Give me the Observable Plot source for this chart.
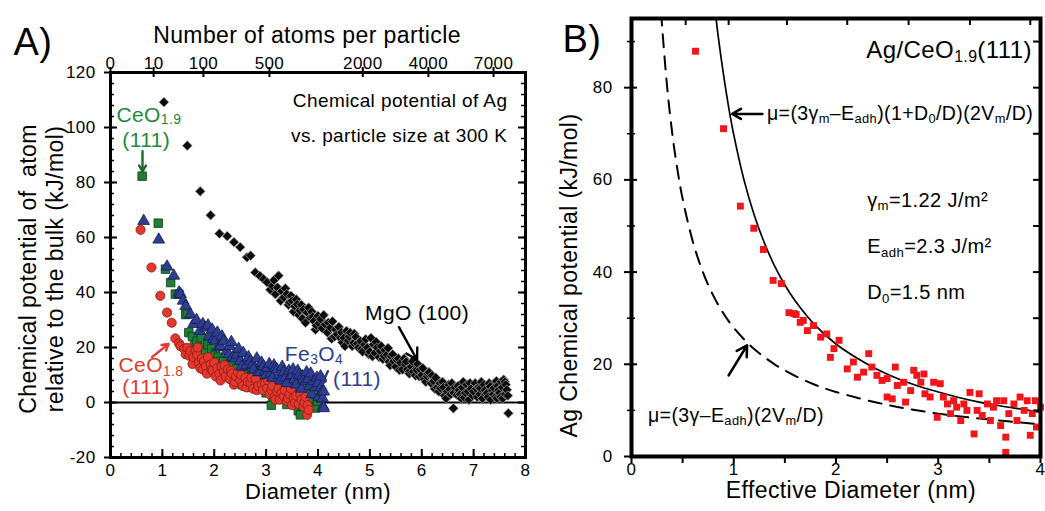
<!DOCTYPE html>
<html><head><meta charset="utf-8">
<script src="https://cdn.jsdelivr.net/npm/d3@7"></script>
<script src="https://cdn.jsdelivr.net/npm/@observablehq/plot@0.6"></script>
<style>
html,body{margin:0;padding:0;background:#fff;}
#wrap{position:relative;width:1045px;height:511px;overflow:hidden;}
#wrap svg{position:absolute;top:0;}
</style></head>
<body><div id="wrap"></div>
<script>
// ---------- Panel A data: [diameter (nm), chemical potential (kJ/mol)] ----------
const mgoPts = [[1.03,109.2],[1.48,93.4],[1.73,76.8],[1.93,68.1],[2.10,61.4],[2.25,60.5],[2.38,58.3],[2.50,56.5],[2.63,52.8],[2.70,53.4],[2.79,47.3],[2.88,46.0],[2.95,44.9],[3.02,43.7],[3.08,41.0],[3.12,42.4],[3.15,44.5],[3.18,39.4],[3.22,41.8],[3.24,46.1],[3.28,37.0],[3.30,40.5],[3.34,38.2],[3.37,41.5],[3.40,39.4],[3.43,35.5],[3.45,36.5],[3.48,38.8],[3.50,37.0],[3.53,33.0],[3.55,35.0],[3.58,37.5],[3.60,35.7],[3.63,31.8],[3.65,33.5],[3.68,35.5],[3.70,30.5],[3.72,33.9],[3.76,29.0],[3.79,32.7],[3.82,34.5],[3.85,30.8],[3.88,33.0],[3.90,31.2],[3.92,29.6],[3.95,26.5],[3.97,28.0],[4.00,31.5],[4.02,28.8],[4.05,30.3],[4.08,27.0],[4.11,31.8],[4.14,28.4],[4.18,25.5],[4.20,29.0],[4.24,27.2],[4.26,23.2],[4.28,29.5],[4.32,24.0],[4.34,26.5],[4.37,24.8],[4.40,27.5],[4.43,23.5],[4.45,25.5],[4.47,21.8],[4.50,23.5],[4.52,20.5],[4.55,26.0],[4.58,22.5],[4.60,24.0],[4.62,25.4],[4.66,20.5],[4.69,21.7],[4.70,25.0],[4.73,23.8],[4.76,21.5],[4.78,19.9],[4.82,22.3],[4.84,19.5],[4.86,18.5],[4.90,21.0],[4.92,23.0],[4.95,19.9],[4.98,17.5],[5.00,18.5],[5.02,23.5],[5.05,16.8],[5.07,21.1],[5.10,18.0],[5.12,22.0],[5.14,20.0],[5.18,16.5],[5.20,18.7],[5.22,20.5],[5.25,15.8],[5.27,17.0],[5.29,19.0],[5.33,17.4],[5.35,19.8],[5.37,14.8],[5.39,13.5],[5.41,16.8],[5.44,17.5],[5.46,15.0],[5.50,13.0],[5.52,15.5],[5.55,16.0],[5.57,11.8],[5.59,14.4],[5.63,12.0],[5.66,16.0],[5.68,13.8],[5.70,14.8],[5.72,12.0],[5.76,10.5],[5.78,11.5],[5.80,13.0],[5.82,15.0],[5.84,11.3],[5.88,9.8],[5.90,11.8],[5.92,14.0],[5.95,9.5],[5.97,12.0],[6.00,10.0],[6.02,12.5],[6.05,8.5],[6.08,7.5],[6.10,9.5],[6.12,10.5],[6.14,11.0],[6.18,7.0],[6.20,9.8],[6.23,7.7],[6.25,5.0],[6.27,9.0],[6.30,5.5],[6.33,4.0],[6.35,7.0],[6.36,5.2],[6.40,7.5],[6.42,5.5],[6.44,2.5],[6.47,1.5],[6.49,4.0],[6.52,6.5],[6.54,4.8],[6.56,3.0],[6.58,7.0],[6.61,-2.1],[6.62,3.5],[6.64,5.5],[6.68,2.8],[6.70,6.0],[6.72,4.5],[6.74,3.0],[6.76,1.5],[6.78,5.5],[6.80,7.5],[6.82,1.8],[6.84,3.5],[6.87,6.5],[6.89,4.0],[6.91,1.0],[6.93,7.0],[6.95,5.0],[6.98,2.5],[7.00,4.0],[7.03,7.0],[7.05,5.0],[7.07,2.0],[7.10,5.5],[7.12,3.0],[7.13,5.2],[7.15,7.5],[7.17,1.5],[7.20,6.5],[7.22,4.5],[7.23,3.0],[7.26,3.4],[7.28,2.0],[7.30,7.0],[7.32,5.8],[7.33,1.0],[7.36,4.5],[7.38,3.0],[7.39,5.2],[7.42,2.0],[7.44,7.8],[7.45,1.5],[7.46,6.0],[7.48,4.5],[7.50,3.5],[7.52,2.0],[7.53,7.5],[7.55,5.5],[7.56,1.5],[7.58,8.3],[7.60,7.5],[7.61,3.0],[7.62,6.5],[7.64,4.6],[7.66,2.5],[7.67,-3.9]];

const ceo19Pts = [[0.61,82.3],[0.92,65.2],[1.06,48.5],[1.16,43.6],[1.25,39.4],[1.32,39.4],[1.45,32.0],[1.48,32.1],[1.51,25.4],[1.58,24.0],[1.62,21.0],[1.67,22.3],[1.72,20.0],[1.75,23.5],[1.78,17.5],[1.83,18.7],[1.88,21.0],[1.93,15.5],[1.95,19.5],[1.99,16.2],[2.02,18.0],[2.05,13.0],[2.08,16.5],[2.12,15.0],[2.15,12.0],[2.18,15.0],[2.24,12.0],[2.28,11.0],[2.30,14.0],[2.35,13.5],[2.38,10.1],[2.44,12.5],[2.48,10.5],[2.50,8.0],[2.54,6.5],[2.57,12.5],[2.60,11.0],[2.63,10.0],[2.66,7.6],[2.70,5.5],[2.72,9.5],[2.76,8.9],[2.80,6.0],[2.82,11.0],[2.88,7.5],[2.92,9.5],[2.95,6.5],[3.00,3.5],[3.03,6.0],[3.06,8.0],[3.10,-1.0],[3.13,2.0],[3.15,4.0],[3.19,5.5],[3.22,7.0],[3.23,1.5],[3.28,2.5],[3.30,4.5],[3.34,1.6],[3.37,3.0],[3.40,-0.7],[3.44,5.0],[3.47,6.5],[3.52,0.0],[3.55,4.5],[3.58,3.0],[3.62,-3.0],[3.66,-4.5],[3.70,-1.0],[3.72,2.0],[3.78,5.0],[3.82,3.0],[3.85,0.4],[3.90,-1.5],[3.95,-2.0],[3.96,3.0],[3.99,0.5],[4.05,1.6]];

const ceo18Pts = [[0.58,62.8],[0.79,49.1],[0.96,38.8],[1.09,32.7],[1.18,29.0],[1.25,23.3],[1.32,21.5],[1.35,20.5],[1.42,19.5],[1.45,17.5],[1.48,19.9],[1.52,17.0],[1.54,18.7],[1.58,14.0],[1.60,16.5],[1.64,19.0],[1.67,17.4],[1.68,20.0],[1.70,14.5],[1.73,12.5],[1.76,16.0],[1.78,12.0],[1.80,15.0],[1.84,13.0],[1.86,10.5],[1.88,16.5],[1.93,13.8],[1.95,12.0],[1.97,11.5],[2.00,14.5],[2.03,9.5],[2.06,12.5],[2.10,10.5],[2.12,8.0],[2.14,13.0],[2.18,11.3],[2.20,13.5],[2.22,9.5],[2.26,12.0],[2.30,8.5],[2.32,11.5],[2.34,10.5],[2.38,6.5],[2.40,7.5],[2.42,9.5],[2.46,11.0],[2.50,8.3],[2.52,10.0],[2.55,6.0],[2.60,9.0],[2.62,5.5],[2.65,7.5],[2.70,7.1],[2.72,9.0],[2.75,5.0],[2.80,8.5],[2.82,4.5],[2.85,6.0],[2.89,12.0],[2.92,6.5],[2.94,4.5],[2.98,7.0],[3.02,5.2],[3.04,8.0],[3.07,3.0],[3.10,4.5],[3.12,6.0],[3.16,2.0],[3.18,1.0],[3.21,4.0],[3.24,5.0],[3.26,1.0],[3.30,3.5],[3.34,2.2],[3.36,4.5],[3.40,0.5],[3.42,1.5],[3.45,3.0],[3.48,5.0],[3.50,-1.0],[3.53,1.6],[3.56,0.0],[3.58,2.5],[3.63,-0.5],[3.66,3.0],[3.68,1.0],[3.72,-1.5],[3.74,0.0],[3.76,2.0],[3.79,-4.5],[3.80,-1.0],[3.82,-2.7]];

const fe3o4Pts = [[0.64,66.0],[0.93,59.2],[1.09,49.4],[1.22,46.1],[1.32,40.0],[1.35,39.4],[1.40,37.0],[1.45,35.1],[1.54,32.1],[1.60,28.5],[1.66,30.0],[1.72,26.0],[1.78,28.5],[1.83,27.2],[1.88,28.0],[1.90,24.0],[1.96,26.5],[1.98,23.0],[2.02,22.5],[2.06,25.4],[2.08,20.0],[2.12,20.5],[2.15,24.0],[2.18,22.3],[2.24,18.5],[2.28,17.5],[2.30,20.5],[2.33,22.0],[2.36,16.5],[2.41,16.0],[2.44,17.4],[2.47,19.5],[2.50,15.0],[2.53,13.0],[2.56,18.0],[2.62,13.5],[2.66,16.5],[2.70,15.0],[2.74,14.0],[2.76,12.0],[2.82,16.0],[2.85,11.0],[2.88,11.0],[2.91,14.5],[2.95,13.2],[2.98,11.5],[3.00,10.0],[3.03,12.5],[3.06,14.0],[3.09,10.5],[3.12,9.0],[3.15,13.5],[3.18,12.5],[3.21,12.0],[3.25,10.0],[3.28,8.0],[3.31,13.0],[3.34,11.0],[3.37,9.0],[3.40,7.0],[3.44,11.5],[3.47,9.5],[3.50,10.0],[3.52,12.0],[3.55,8.5],[3.58,6.5],[3.61,11.5],[3.64,10.0],[3.68,5.0],[3.70,9.5],[3.72,8.3],[3.76,7.7],[3.78,11.0],[3.81,8.5],[3.84,6.0],[3.86,10.5],[3.88,3.0],[3.92,7.7],[3.95,5.5],[3.98,9.0],[4.00,7.0],[4.02,2.0],[4.05,9.5],[4.06,5.5],[4.08,4.0],[4.09,1.5],[4.11,4.0],[4.10,-1.5],[4.11,-2.1]];

const xTicksA = [0,1,2,3,4,5,6,7,8];
const yTicksA = [-20,0,20,40,60,80,100,120];
const atomTicks = [0,10,100,500,2000,4000,7000];
const nmPerCubeRootAtom = 0.386; // D = 0.386 * N^(1/3) for Ag

// ---------- Panel B data ----------
const agCeoPts = [[0.626,87.9],[0.90,71.1],[1.065,54.3],[1.196,49.5],[1.29,44.9],[1.385,38.2],[1.466,37.5],[1.54,31.2],[1.59,31.0],[1.61,30.8],[1.65,29.1],[1.68,29.5],[1.72,27.3],[1.78,28.4],[1.85,25.9],[1.91,26.6],[1.945,21.5],[1.98,23.4],[2.03,25.2],[2.11,19.0],[2.17,20.5],[2.21,17.2],[2.27,18.3],[2.32,22.3],[2.35,19.4],[2.40,17.6],[2.45,16.5],[2.50,16.9],[2.50,12.9],[2.55,12.5],[2.58,19.4],[2.60,15.4],[2.66,16.1],[2.68,11.8],[2.73,14.3],[2.76,18.7],[2.79,17.6],[2.83,16.1],[2.86,17.9],[2.87,13.6],[2.92,12.9],[2.955,16.1],[2.99,8.5],[3.02,15.8],[3.05,12.9],[3.09,11.4],[3.12,9.3],[3.15,12.1],[3.18,10.7],[3.22,7.8],[3.25,11.4],[3.28,10.0],[3.31,13.9],[3.35,4.9],[3.38,10.0],[3.40,13.6],[3.43,8.9],[3.48,11.4],[3.51,7.8],[3.54,10.7],[3.57,12.1],[3.61,6.7],[3.64,12.1],[3.66,4.2],[3.66,0.9],[3.69,9.3],[3.74,11.4],[3.77,7.8],[3.80,12.9],[3.84,10.0],[3.87,12.1],[3.90,4.6],[3.92,9.3],[3.95,12.1],[3.96,6.4],[4.0,10.7]];

// model curves, values
const fitWithD0 = [[0.82,96.4],[0.85,90.8],[0.9,82.8],[0.95,75.8],[1.0,69.8],[1.1,60.0],[1.2,52.4],[1.3,46.3],[1.4,41.3],[1.5,37.2],[1.6,33.8],[1.8,28.4],[2.0,24.4],[2.2,21.4],[2.4,18.9],[2.6,16.9],[2.8,15.3],[3.0,14.0],[3.2,12.8],[3.4,11.8],[3.6,11.0],[3.8,10.3],[4.0,9.6]];
const fitNoD0 = [[0.29,96.3],[0.3,93.1],[0.35,79.8],[0.4,69.8],[0.45,62.1],[0.5,55.9],[0.6,46.6],[0.7,39.9],[0.8,34.9],[0.9,31.0],[1.0,27.9],[1.2,23.3],[1.4,20.0],[1.6,17.5],[1.8,15.5],[2.0,14.0],[2.5,11.2],[3.0,9.3],[3.5,8.0],[4.0,7.0]];

const xTicksB = [0,1,2,3,4];
const yTicksB = [0,20,40,60,80];
const yMinorB = [10,30,50,70,90];
const topTicksB = [0.53,0.95,1.52,2.11,2.71,3.31,3.90];
const rightTicksB = [10,20,30,40,50,60,70,80,90];

// ---------- helpers ----------
const FONT = '"Liberation Sans", Arial, Helvetica, sans-serif';
const X = d => d[0], Y = d => d[1];
const wrap = document.getElementById("wrap");
const diamondSym = d3.symbolDiamond2 || "diamond";

function rich(chart, parts, x, y, {size = 20, anchor = "start", fill = "black", sub = 0.66, drop = 0.17} = {}) {
  const sx = chart.scale("x"), sy = chart.scale("y");
  const t = d3.select(chart).append("text")
    .attr("x", sx.apply(x)).attr("y", sy.apply(y))
    .attr("text-anchor", anchor).attr("fill", fill)
    .style("font-size", size + "px").style("font-family", FONT).style("letter-spacing", "0.4px");
  let shift = 0;
  for (const p of parts) {
    const [s, kind] = Array.isArray(p) ? p : [p, ""];
    const isSub = kind === "sub";
    const target = isSub ? size * drop : 0;
    const ts = t.append("tspan").text(s).style("font-size", (isSub ? size * sub : size) + "px");
    if (target !== shift) { ts.attr("dy", target - shift); shift = target; }
  }
  return t;
}

// ---------- Panel A ----------
const A = {w: 540, h: 511, ml: 110, mr: 15, mt: 72, mb: 54};
const fwA = A.w - A.ml - A.mr, fhA = A.h - A.mt - A.mb;
const xMinorA = d3.range(0, 8.0001, 0.2);
const yMinorA = d3.range(-20, 120.001, 4);

const chartA = Plot.plot({
  width: A.w, height: A.h, marginLeft: A.ml, marginRight: A.mr, marginTop: A.mt, marginBottom: A.mb,
  x: {domain: [0, 8], axis: null},
  y: {domain: [-20, 120], axis: null},
  style: {fontFamily: FONT, fontSize: "17px", background: "transparent", overflow: "visible", letterSpacing: "0.4px"},
  marks: [
    Plot.ruleY([0], {stroke: "black", strokeWidth: 2}),
    Plot.dot(mgoPts, {x: X, y: Y, symbol: diamondSym, r: 4.4, fill: "#0b0b0b", stroke: "#9a9a9a", strokeWidth: 0.8}),
    Plot.dot(ceo19Pts, {x: X, y: Y, symbol: "square", r: 4.8, fill: "#1f7d37", stroke: "#0c3d18", strokeWidth: 0.8}),
    Plot.dot(ceo18Pts, {x: X, y: Y, r: 4.6, fill: "#e2382d", stroke: "#8e1b14", strokeWidth: 0.8}),
    Plot.dot(fe3o4Pts, {x: X, y: Y, symbol: "triangle", r: 4.4, fill: "#2e3d90", stroke: "#141d52", strokeWidth: 0.8}),
    Plot.frame({stroke: "black", strokeWidth: 3}),
    // ticks
    Plot.tickX(xMinorA, {x: d => d, insetTop: fhA - 4, strokeWidth: 1.5}),
    Plot.tickX(xTicksA, {x: d => d, insetTop: fhA - 8, strokeWidth: 2}),
    Plot.tickY(yMinorA, {y: d => d, insetRight: fwA - 4, strokeWidth: 1.5}),
    Plot.tickY(yTicksA, {y: d => d, insetLeft: -6, insetRight: fwA - 7, strokeWidth: 2}),
    Plot.tickY(yMinorA, {y: d => d, insetLeft: fwA - 4, strokeWidth: 1.5}),
    Plot.tickY(yTicksA, {y: d => d, insetLeft: fwA - 7, strokeWidth: 2}),
    Plot.tickX(atomTicks, {x: n => nmPerCubeRootAtom * Math.cbrt(n), insetTop: -5, insetBottom: fhA - 5, strokeWidth: 2}),
    // tick labels
    Plot.text(xTicksA, {x: d => d, text: d => String(d), frameAnchor: "bottom", dy: 18.5, fontSize: 17}),
    Plot.text(yTicksA, {y: d => d, text: d => String(d), frameAnchor: "left", dx: -15, textAnchor: "end", fontSize: 17}),
    Plot.text(atomTicks, {x: n => nmPerCubeRootAtom * Math.cbrt(n), text: d => String(d), frameAnchor: "top", dy: -15.5, fontSize: 17}),
    // titles
    Plot.text(["Number of atoms per particle"], {text: d => d, frameAnchor: "top", dx: -11, dy: -46, fontSize: 23}),
    Plot.text(["Diameter (nm)"], {text: d => d, frameAnchor: "bottom", dy: 41.5, fontSize: 22}),
    Plot.text(["Chemical potential of  atom"], {text: d => d, frameAnchor: "left", textAnchor: "middle", dx: -82, dy: 4, rotate: -90, fontSize: 23, letterSpacing: "2.1px"}),
    Plot.text(["relative to the bulk (kJ/mol)"], {text: d => d, frameAnchor: "left", textAnchor: "middle", dx: -55, dy: 4, rotate: -90, fontSize: 23, letterSpacing: "2.1px"}),
    Plot.text(["A)"], {text: d => d, frameAnchor: "top-left", dx: -97, dy: -44, textAnchor: "start", fontSize: 38}),
    Plot.text(["Chemical potential of Ag", "vs. particle size at 300 K"], {text: d => d, x: [7.65, 7.65], y: [107.6, 94.9], textAnchor: "end", lineAnchor: "bottom", fontSize: 19}),
    // arrows
    Plot.arrow([{x1: 0.617, y1: 91.4, x2: 0.617, y2: 84}], {x1: "x1", y1: "y1", x2: "x2", y2: "y2", stroke: "#1c6a2c", strokeWidth: 2.4, headLength: 7}),
    Plot.arrow([{x1: 0.80, y1: 16.5, x2: 1.12, y2: 21.3}], {x1: "x1", y1: "y1", x2: "x2", y2: "y2", stroke: "#e2382d", strokeWidth: 2.4, headLength: 7}),
    Plot.arrow([{x1: 4.19, y1: 11.4, x2: 4.08, y2: 6.8}], {x1: "x1", y1: "y1", x2: "x2", y2: "y2", stroke: "#2a3a88", strokeWidth: 2.4, headLength: 6}),
    Plot.arrow([{x1: 5.56, y1: 27.4, x2: 5.91, y2: 15.5}], {x1: "x1", y1: "y1", x2: "x2", y2: "y2", stroke: "black", strokeWidth: 2.4, headLength: 8})
  ]
});
chartA.style.left = "0px";
wrap.appendChild(chartA);

rich(chartA, ["CeO", ["1.9", "sub"]], 0.75, 102.0, {size: 21, anchor: "middle", fill: "#22883c", drop: 0.12});
rich(chartA, ["(111)"], 0.70, 92.6, {size: 21, anchor: "middle", fill: "#22883c"});
rich(chartA, ["CeO", ["1.8", "sub"]], 0.79, 10.8, {size: 21, anchor: "middle", fill: "#e2382d"});
rich(chartA, ["(111)"], 0.70, 2.8, {size: 21, anchor: "middle", fill: "#e2382d"});
rich(chartA, ["Fe", ["3", "sub"], "O", ["4", "sub"]], 3.37, 15.0, {size: 21, anchor: "start", fill: "#2e3d90"});
rich(chartA, ["(111)"], 4.30, 6.0, {size: 21, anchor: "start", fill: "#2e3d90"});
rich(chartA, ["MgO (100)"], 5.92, 29.8, {size: 21, anchor: "middle", fill: "black"});

// ---------- Panel B ----------
const B = {w: 505, h: 511, ml: 91, mr: 5, mt: 18, mb: 55};
const fwB = B.w - B.ml - B.mr, fhB = B.h - B.mt - B.mb;

const chartB = Plot.plot({
  width: B.w, height: B.h, marginLeft: B.ml, marginRight: B.mr, marginTop: B.mt, marginBottom: B.mb,
  x: {domain: [0, 4], axis: null},
  y: {domain: [0, 95], axis: null},
  style: {fontFamily: FONT, fontSize: "17px", background: "transparent", overflow: "visible", letterSpacing: "0.4px"},
  marks: [
    Plot.line(fitNoD0, {x: X, y: Y, stroke: "black", strokeWidth: 2, strokeDasharray: "13,9", curve: "catmull-rom", clip: true}),
    Plot.line(fitWithD0, {x: X, y: Y, stroke: "black", strokeWidth: 1.7, curve: "catmull-rom", clip: true}),
    Plot.dot(agCeoPts, {x: X, y: Y, symbol: "square", r: 3.9, fill: "#f2161b"}),
    Plot.frame({stroke: "black", strokeWidth: 4}),
    Plot.tickY(yTicksB, {y: d => d, insetLeft: -7, insetRight: fwB - 6, strokeWidth: 2}),
    Plot.tickY(yMinorB, {y: d => d, insetLeft: -4, insetRight: fwB - 4, strokeWidth: 1.5}),
    Plot.tickY(rightTicksB, {y: d => d, insetLeft: fwB - 7, strokeWidth: 2}),
    Plot.tickX(d3.range(0, 4.001, 0.5), {x: d => d, insetTop: fhB, insetBottom: -7, strokeWidth: 2}),
    Plot.tickX(topTicksB, {x: d => d, insetBottom: fhB - 7, strokeWidth: 2}),
    Plot.text(xTicksB, {x: d => d, text: d => String(d), frameAnchor: "bottom", dy: 18.5, fontSize: 17}),
    Plot.text(yTicksB, {y: d => d, text: d => String(d), frameAnchor: "left", dx: -19, textAnchor: "end", fontSize: 17}),
    Plot.text(["Effective Diameter (nm)"], {text: d => d, frameAnchor: "bottom", dx: 15, dy: 41.5, fontSize: 23}),
    Plot.text(["Ag Chemical potential (kJ/mol)"], {text: d => d, frameAnchor: "left", textAnchor: "middle", dx: -62, dy: 38, rotate: -90, fontSize: 23, letterSpacing: "2px"}),
    Plot.text(["B)"], {text: d => d, frameAnchor: "top-left", dx: -69, dy: 7, textAnchor: "start", fontSize: 38}),
    Plot.arrow([{x1: 1.28, y1: 74.3, x2: 0.985, y2: 74.3}], {x1: "x1", y1: "y1", x2: "x2", y2: "y2", stroke: "black", strokeWidth: 2.6, headLength: 6}),
    Plot.arrow([{x1: 0.95, y1: 17.6, x2: 1.13, y2: 24.1}], {x1: "x1", y1: "y1", x2: "x2", y2: "y2", stroke: "black", strokeWidth: 2.6, headLength: 7})
  ]
});
chartB.style.left = "540px";
wrap.appendChild(chartB);

rich(chartB, ["Ag/CeO", ["1.9", "sub"], "(111)"], 3.92, 86.3, {size: 24, anchor: "end"});
rich(chartB, ["\u03bc=(3\u03b3", ["m", "sub"], "\u2013E", ["adh", "sub"], ")(1+D", ["0", "sub"], "/D)(2V", ["m", "sub"], "/D)"], 1.33, 72.9, {size: 19.5});
rich(chartB, ["\u03b3", ["m", "sub"], "=1.22 J/m\u00b2"], 2.31, 54.0, {size: 20});
rich(chartB, ["E", ["adh", "sub"], "=2.3 J/m\u00b2"], 2.31, 44.0, {size: 20});
rich(chartB, ["D", ["0", "sub"], "=1.5 nm"], 2.31, 34.0, {size: 20});
rich(chartB, ["\u03bc=(3\u03b3\u2013E", ["adh", "sub"], ")(2V", ["m", "sub"], "/D)"], 0.166, 7.4, {size: 19.5});
</script>
</body></html>
